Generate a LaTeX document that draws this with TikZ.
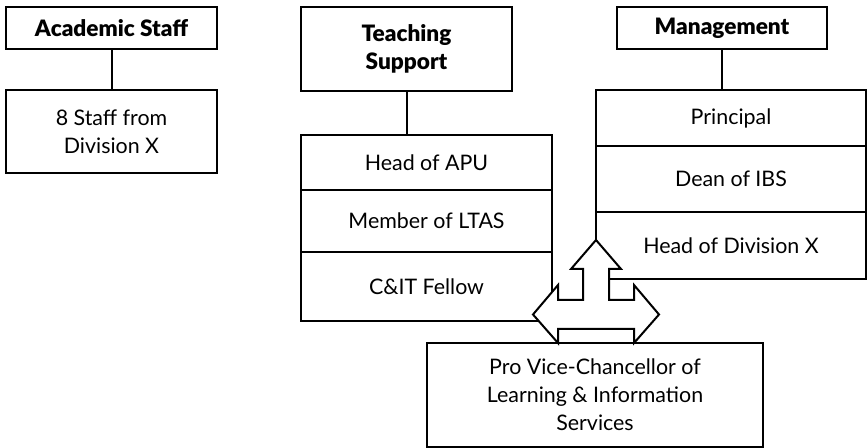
\documentclass[tikz,border=0pt]{standalone}
\usepackage{fontspec}
\setmainfont{Lato}[BoldFont={Lato Black}]
\usetikzlibrary{positioning}

\begin{document}
\begin{tikzpicture}[x=0.5pt, y=-0.5pt, node distance=0pt,
      every node/.style={font=\fontsize{10.7}{14}\selectfont},
      box/.style={draw, line width=1pt, outer sep=0pt, inner sep=0pt, align=center, minimum width=105.5pt},
      head/.style={box, font=\fontsize{11.3}{14}\selectfont\bfseries},
      link/.style={line width=1pt},
      blockarr/.style={draw, fill=white, line width=1pt, line join=miter}]
    \useasboundingbox (0,0) rectangle (867,448);
    % left column
    \node[head, minimum height=21pt] (acad) at (111.5,28) {Academic Staff};
    \node[box, below=20.5pt of acad, minimum height=41.5pt] (staff) {8 Staff from\\Division X};
    % middle column
    \node[head, minimum height=42pt] (teach) at (406.5,49) {Teaching\\Support};
    \node[box, anchor=north west, minimum width=125.5pt, minimum height=27.5pt] (apu) at ([yshift=-22pt]teach.south west) {Head of APU};
    \node[box, below=of apu, minimum width=125.5pt, minimum height=31pt] (ltas) {Member of LTAS};
    \node[box, below=of ltas, minimum width=125.5pt, minimum height=34.5pt] (cit) {C\&IT Fellow};
    % right column
    \node[head, minimum width=105pt, minimum height=21pt] (mgmt) at (722,28) {Management};
    \node[box, anchor=north west, minimum width=135pt, minimum height=28pt] (princ) at (596,90) {Principal};
    \node[box, below=of princ, minimum width=135pt, minimum height=33pt] (dean) {Dean of IBS};
    \node[box, below=of dean, minimum width=135pt, minimum height=33.5pt] (hdiv) {Head of Division X};
    % bottom
    \node[box, anchor=north west, minimum width=168pt, minimum height=52pt] (pvc) at (427,343) {Pro Vice-Chancellor of\\Learning \& Information\\Services};
    \draw[link] (acad) -- (staff);
    \draw[link] (teach.south) -- (teach.south |- apu.north);
    \draw[link] (mgmt.south) -- (mgmt.south |- princ.north);
    % three-way block arrow
    \coordinate (hub) at (596,314.5);
    \draw[blockarr, shift={(hub)}] (-63,0) -- (-38,-29.5) -- (-38,-14.5) -- (-13,-14.5) -- (-13,-45.5)
      -- (-25,-45.5) -- (0,-74.5) -- (25,-45.5) -- (13,-45.5) -- (13,-14.5) -- (38,-14.5)
      -- (38,-29.5) -- (63,0) -- (38,28.5) -- (38,14.5) -- (-38,14.5) -- (-38,28.5) -- cycle;
  \end{tikzpicture}
\end{document}
